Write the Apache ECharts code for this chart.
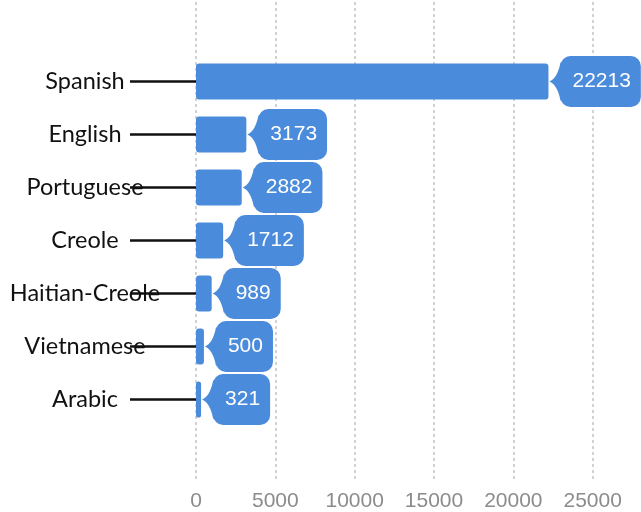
<!DOCTYPE html>
<html>
<head>
<meta charset="utf-8">
<script src="https://cdn.jsdelivr.net/npm/echarts@6/dist/echarts.min.js"></script>
<style>
  html, body { margin: 0; padding: 0; background: #fff; }
  #chart { width: 641px; height: 512px; }
</style>
</head>
<body>
<div id="chart"></div>
<script>
const languages = ['Spanish', 'English', 'Portuguese', 'Creole', 'Haitian-Creole', 'Vietnamese', 'Arabic']
const counts = [22213, 3173, 2882, 1712, 989, 500, 321]
const xTicks = [0, 5000, 10000, 15000, 20000, 25000, 30000]

const BLUE = '#4a8bdb'

// one empty slot above and below so the grid reaches past the bars
const cats = [''].concat(languages, [''])
const vals = [null].concat(counts, [null])

const chart = echarts.init(document.getElementById('chart'))

// little funnel joining the bar end to its value box
function renderPointer(params, api) {
  const v = api.value(0)
  if (v == null || isNaN(v)) return
  const p = api.coord([v, api.value(1)])
  const x = p[0]
  const y = p[1]
  const path =
    'M' + (x + 1) + ' ' + y +
    ' C' + (x + 6) + ' ' + (y - 2) + ' ' + (x + 10) + ' ' + (y - 8) + ' ' + (x + 12) + ' ' + (y - 19) +
    ' L' + (x + 18) + ' ' + (y - 19) +
    ' L' + (x + 18) + ' ' + (y + 19) +
    ' L' + (x + 12) + ' ' + (y + 19) +
    ' C' + (x + 10) + ' ' + (y + 8) + ' ' + (x + 6) + ' ' + (y + 2) + ' ' + (x + 1) + ' ' + y + ' Z'
  return {
    type: 'path',
    shape: { pathData: path },
    style: { fill: BLUE }
  }
}

chart.setOption({
  animation: false,
  // the 30000 gridline falls just outside the picture
  grid: {
    left: 196, top: 2, width: 476, height: 477,
    containLabel: false,
    outerBoundsMode: 'none'
  },
  xAxis: {
    type: 'value',
    min: xTicks[0],
    max: xTicks[xTicks.length - 1],
    interval: xTicks[1] - xTicks[0],
    axisLine: { show: false },
    axisTick: { show: false },
    axisLabel: {
      color: '#8c8c8c',
      fontSize: 21,
      fontFamily: 'Arial, "Liberation Sans", sans-serif',
      margin: 12,
      formatter: (v) => String(v)
    },
    splitLine: {
      show: true,
      lineStyle: { color: '#c4c4c4', type: [3, 3], width: 1.5 }
    }
  },
  yAxis: {
    type: 'category',
    inverse: true,
    data: cats,
    offset: 6,
    axisLine: { show: false },
    axisTick: {
      show: true,
      alignWithLabel: true,
      length: 66,
      interval: (i, v) => v !== '',
      lineStyle: { color: '#111', width: 2.5 }
    },
    axisLabel: {
      align: 'center',
      margin: 105,
      color: '#111',
      fontSize: 23.5,
      fontFamily: 'Lato, sans-serif'
    }
  },
  series: [
    {
      type: 'custom',
      renderItem: renderPointer,
      data: vals.map((v, i) => [v, i]),
      silent: true,
      z: 3
    },
    {
      type: 'bar',
      data: vals,
      barWidth: 36,
      itemStyle: { color: BLUE, borderRadius: 3 },
      label: {
        show: true,
        position: 'right',
        distance: 12,
        color: '#fff',
        fontSize: 21,
        fontFamily: 'Arial, "Liberation Sans", sans-serif',
        backgroundColor: BLUE,
        borderRadius: 10,
        padding: [15, 10, 15, 12],
        formatter: (p) => (p.value == null ? '' : String(p.value))
      },
      z: 2
    }
  ]
})
</script>
</body>
</html>
